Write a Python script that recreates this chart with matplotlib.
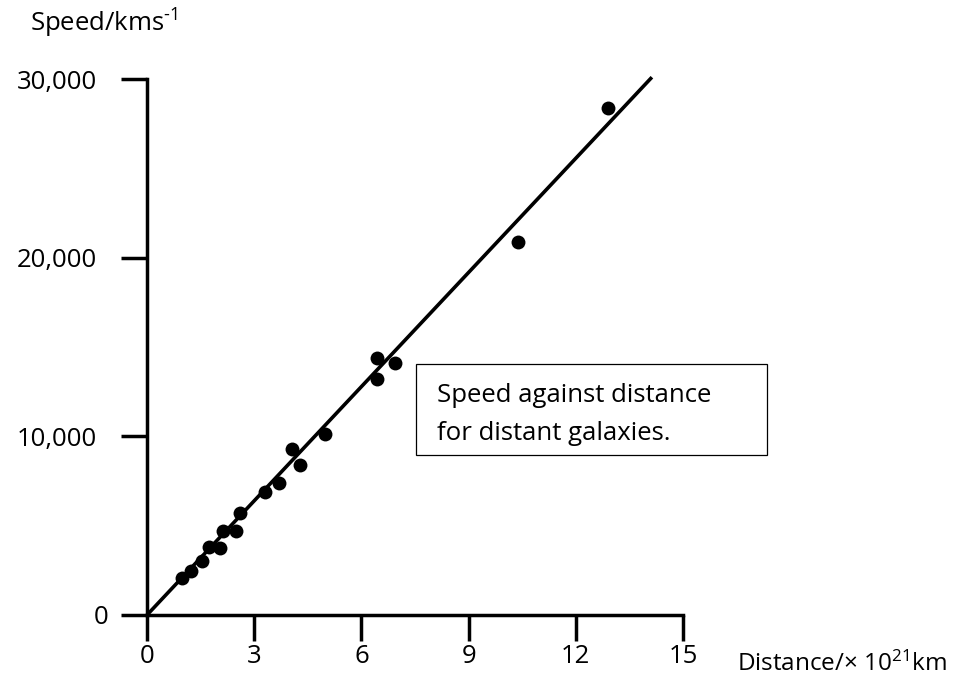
import matplotlib
matplotlib.use("Agg")
import matplotlib.pyplot as plt
from matplotlib.patches import Rectangle

plt.rcParams['font.family'] = ['Open Sans', 'DejaVu Sans']
plt.rcParams['mathtext.fontset'] = 'custom'
plt.rcParams['mathtext.rm'] = 'Open Sans'
plt.rcParams['mathtext.it'] = 'Open Sans'

# Galaxy measurements: distance (x 10^21 km) and recession speed (km/s)
distance = [0.97, 1.22, 1.53, 1.74, 2.04, 2.12, 2.48, 2.60, 3.30, 3.70,
            4.05, 4.28, 4.98, 6.45, 6.45, 6.94, 10.39, 12.91]
speed = [2050, 2460, 3020, 3790, 3730, 4720, 4720, 5690, 6870, 7370,
         9270, 8390, 10130, 14370, 13210, 14090, 20890, 28360]

# Best-fit straight line through the origin
fit_distance = [0.0, 14.13]
fit_speed = [0.0, 30100]

x_ticks = [0, 3, 6, 9, 12, 15]
x_tick_labels = ['0', '3', '6', '9', '12', '15']
y_ticks = [0, 10000, 20000, 30000]
y_tick_labels = ['0', '10,000', '20,000', '30,000']

W, H = 961, 683
fig = plt.figure(figsize=(W / 100, H / 100), dpi=100)
ax = fig.add_axes([147 / W, 1 - 615 / H, (683 - 147) / W, (615 - 79) / H])

ax.set_xlim(0, 15)
ax.set_ylim(0, 30000)

lw = 2.5
for side in ('top', 'right'):
    ax.spines[side].set_visible(False)
for side in ('left', 'bottom'):
    ax.spines[side].set_linewidth(lw)
    ax.spines[side].set_color('black')
    ax.spines[side].set_capstyle('projecting')

ax.plot(fit_distance, fit_speed, color='black', lw=2.6, clip_on=False,
        solid_capstyle='butt')
ax.scatter(distance, speed, s=100, color='black', zorder=3, clip_on=False,
           linewidths=0)

fs = 18.5
ax.set_xticks(x_ticks, x_tick_labels, fontsize=fs)
ax.set_yticks(y_ticks, y_tick_labels, fontsize=fs)
ax.tick_params(axis='both', direction='out', length=19, width=lw,
               color='black')
ax.tick_params(axis='x', pad=2)
ax.tick_params(axis='y', pad=17)
ax.yaxis.get_major_ticks()[0].set_pad(9)

# Axis titles
fig.text(30 / W, 1 - 23 / H, r'Speed/kms$^{\text{-}1}$', fontsize=fs,
         ha='left', va='center')
fig.text(737 / W, 1 - 664 / H, 'Distance/\u00d7 10$^{21}$km', fontsize=17.5,
         ha='left', va='center')

# Caption box
box = Rectangle((416 / W, 1 - 455 / H), (767 - 416) / W, (455 - 364) / H,
                transform=fig.transFigure, facecolor='white',
                edgecolor='black', lw=0.9)
fig.patches.append(box)
fig.text(437 / W, 1 - 395 / H, 'Speed against distance', fontsize=fs,
         ha='left', va='center')
fig.text(437 / W, 1 - 434 / H, 'for distant galaxies.', fontsize=fs,
         ha='left', va='center')

fig.savefig('out.png', dpi=100, facecolor='white')
